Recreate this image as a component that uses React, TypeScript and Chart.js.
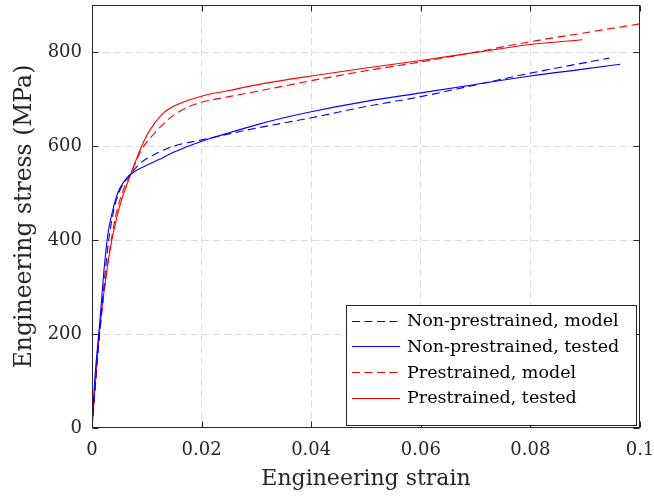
import React, { useEffect, useRef } from 'react';
import { Chart, registerables } from 'chart.js';

Chart.register(...registerables);

const FONT = "'DejaVu Serif', serif";
const AXIS_COLOR = '#262626';

// ---------- data ----------
const nonPreModelStrain = [0, 0.001, 0.002, 0.0029, 0.004, 0.005, 0.006, 0.0075, 0.009, 0.0114, 0.015, 0.02, 0.03, 0.04, 0.05, 0.06, 0.07, 0.08, 0.0944];
const nonPreModelStress = [0, 150, 280, 386, 465, 503, 525, 547, 565, 582, 600, 613, 638, 660, 684, 705, 730, 755, 787];

const nonPreTestedStrain = [0, 0.0005, 0.0014, 0.0023, 0.003, 0.0038, 0.0047, 0.0057, 0.0072, 0.0096, 0.012, 0.015, 0.02, 0.025, 0.03, 0.035, 0.04, 0.05, 0.06, 0.07, 0.08, 0.09, 0.0964];
const nonPreTestedStress = [0, 102, 223, 350, 420, 464, 500, 522, 541, 557, 570, 587, 610, 628, 645, 660, 673, 695, 713, 731, 749, 764, 774];

const preModelStrain = [0, 0.0014, 0.0029, 0.0044, 0.006, 0.0072, 0.009, 0.0114, 0.0145, 0.0175, 0.02, 0.025, 0.03, 0.04, 0.05, 0.06, 0.07, 0.08, 0.09, 0.1];
const preModelStress = [0, 200, 352, 455, 515, 544, 591, 627, 662, 683, 693, 705, 716, 739, 760, 779, 800, 822, 841, 860];

const preTestedStrain = [0, 0.0014, 0.0029, 0.0047, 0.0069, 0.0084, 0.0099, 0.0114, 0.0133, 0.0157, 0.02, 0.025, 0.03, 0.04, 0.05, 0.06, 0.07, 0.08, 0.0895];
const preTestedStress = [0, 208, 351, 457, 535, 581, 620, 648, 673, 689, 706, 718, 730, 749, 766, 782, 799, 816, 826];

const seriesLabels = ['Non-prestrained, model', 'Non-prestrained, tested', 'Prestrained, model', 'Prestrained, tested'];

const xTicks = [0, 0.02, 0.04, 0.06, 0.08, 0.1];
const yTicks = [0, 200, 400, 600, 800];

const toPoints = (xs: number[], ys: number[]) => xs.map((x, i) => ({ x, y: ys[i] }));

const framePlugin = {
  id: 'frameTicks',
  afterDatasetsDraw(chart: any) {
    const { ctx, chartArea, scales } = chart;
    const { left, right, top, bottom } = chartArea;
    ctx.save();
    ctx.strokeStyle = AXIS_COLOR;
    ctx.lineWidth = 1;
    ctx.setLineDash([]);
    const L = Math.round(left) + 0.5;
    const R = Math.round(right) - 0.5;
    const T = Math.round(top) + 0.5;
    const B = Math.round(bottom) - 0.5;
    ctx.strokeRect(L, T, R - L, B - T);
    const tl = 6;
    ctx.beginPath();
    scales.x.ticks.forEach((t: any) => {
      const x = Math.round(scales.x.getPixelForValue(t.value)) + 0.5;
      ctx.moveTo(x, B); ctx.lineTo(x, B - tl);
      ctx.moveTo(x, T); ctx.lineTo(x, T + tl);
    });
    scales.y.ticks.forEach((t: any) => {
      const y = Math.round(scales.y.getPixelForValue(t.value)) + 0.5;
      ctx.moveTo(L, y); ctx.lineTo(L + tl, y);
      ctx.moveTo(R, y); ctx.lineTo(R - tl, y);
    });
    ctx.stroke();
    ctx.restore();
  },
};

const legendPlugin = {
  id: 'insideLegend',
  afterDraw(chart: any) {
    const { ctx, chartArea } = chart;
    const datasets = chart.data.datasets;
    ctx.save();
    ctx.font = `17.5px ${FONT}`;
    const maxW = Math.max(...datasets.map((d: any) => ctx.measureText(d.label).width));
    const rowH = 25.67;
    const boxW = Math.round(61 + maxW + 18);
    const boxH = 121;
    const right = Math.round(chartArea.right) - 3;
    const bottom = Math.round(chartArea.bottom) - 2;
    const left = right - boxW;
    const top = bottom - boxH;
    ctx.fillStyle = '#ffffff';
    ctx.fillRect(left, top, boxW, boxH);
    ctx.strokeStyle = AXIS_COLOR;
    ctx.lineWidth = 1;
    ctx.strokeRect(left + 0.5, top + 0.5, boxW - 1, boxH - 1);
    datasets.forEach((d: any, i: number) => {
      const y = top + 15.7 + i * rowH;
      ctx.strokeStyle = d.borderColor;
      ctx.lineWidth = d.borderWidth;
      ctx.setLineDash(d.borderDash || []);
      ctx.beginPath();
      ctx.moveTo(left + 6, Math.round(y) + 0.5);
      ctx.lineTo(left + 54, Math.round(y) + 0.5);
      ctx.stroke();
      ctx.setLineDash([]);
      ctx.fillStyle = '#000000';
      ctx.textAlign = 'left';
      ctx.textBaseline = 'middle';
      ctx.fillText(d.label, left + 61, y + 1);
    });
    ctx.restore();
  },
};

export default function App() {
  const canvasRef = useRef<HTMLCanvasElement | null>(null);

  useEffect(() => {
    document.body.style.margin = '0';
    const canvas = canvasRef.current;
    if (!canvas) return;
    const dash = [8, 4.5];
    const chart = new Chart(canvas, {
      type: 'scatter',
      data: {
        datasets: [
          { label: seriesLabels[0], data: toPoints(nonPreModelStrain, nonPreModelStress), borderColor: '#0000ff', borderDash: dash },
          { label: seriesLabels[1], data: toPoints(nonPreTestedStrain, nonPreTestedStress), borderColor: '#0000ff' },
          { label: seriesLabels[2], data: toPoints(preModelStrain, preModelStress), borderColor: '#ff0000', borderDash: dash },
          { label: seriesLabels[3], data: toPoints(preTestedStrain, preTestedStress), borderColor: '#ff0000' },
        ].map((d) => ({
          ...d,
          showLine: true,
          borderWidth: 1.1,
          pointRadius: 0,
          pointHoverRadius: 0,
          fill: false,
          cubicInterpolationMode: 'monotone' as const,
          backgroundColor: d.borderColor,
        })),
      },
      options: {
        animation: false,
        responsive: false,
        maintainAspectRatio: false,
        devicePixelRatio: 1,
        layout: { padding: { top: 5, right: 0, left: 0, bottom: 0 } },
        plugins: {
          legend: { display: false },
          tooltip: { enabled: false },
        },
        scales: {
          x: {
            type: 'linear',
            min: 0,
            max: 0.1,
            afterBuildTicks: (s: any) => { s.ticks = xTicks.map((v) => ({ value: v })); },
            afterFit: (s: any) => { s.height = 70; s.paddingLeft = 0; s.paddingRight = 14; },
            grid: {
              color: (c: any) => (c.tick && (c.tick.value === 0 || c.tick.value === 0.1) ? 'rgba(0,0,0,0)' : '#dcdcdc'),
              lineWidth: 1,
              drawTicks: false,
            },
            border: { display: false, dash: [7, 4] },
            ticks: {
              font: { family: FONT, size: 18 },
              color: AXIS_COLOR,
              padding: 12,
              maxRotation: 0,
              autoSkip: false,
              callback: (v: any) => String(Number(Number(v).toFixed(3))),
            },
            title: {
              display: true,
              text: 'Engineering strain',
              font: { family: FONT, size: 22 },
              color: AXIS_COLOR,
              padding: { top: 0, bottom: 6 },
            },
          },
          y: {
            type: 'linear',
            min: 0,
            max: 900,
            afterBuildTicks: (s: any) => { s.ticks = yTicks.map((v) => ({ value: v })); },
            afterFit: (s: any) => { s.width = 92; s.paddingTop = 0; s.paddingBottom = 0; },
            grid: {
              color: (c: any) => (c.tick && c.tick.value === 0 ? 'rgba(0,0,0,0)' : '#dcdcdc'),
              lineWidth: 1,
              drawTicks: false,
            },
            border: { display: false, dash: [7, 4] },
            ticks: {
              font: { family: FONT, size: 18 },
              color: AXIS_COLOR,
              padding: 10,
              autoSkip: false,
              callback: (v: any) => String(v),
            },
            title: {
              display: true,
              text: 'Engineering stress (MPa)',
              font: { family: FONT, size: 23.5 },
              color: AXIS_COLOR,
              padding: { top: 11, bottom: 0 },
            },
          },
        },
      },
      plugins: [framePlugin, legendPlugin],
    } as any);
    return () => chart.destroy();
  }, []);

  return (
    <div style={{ width: 654, height: 498, position: 'relative', background: '#fff' }}>
      <canvas ref={canvasRef} width={654} height={498} style={{ display: 'block' }} />
    </div>
  );
}
